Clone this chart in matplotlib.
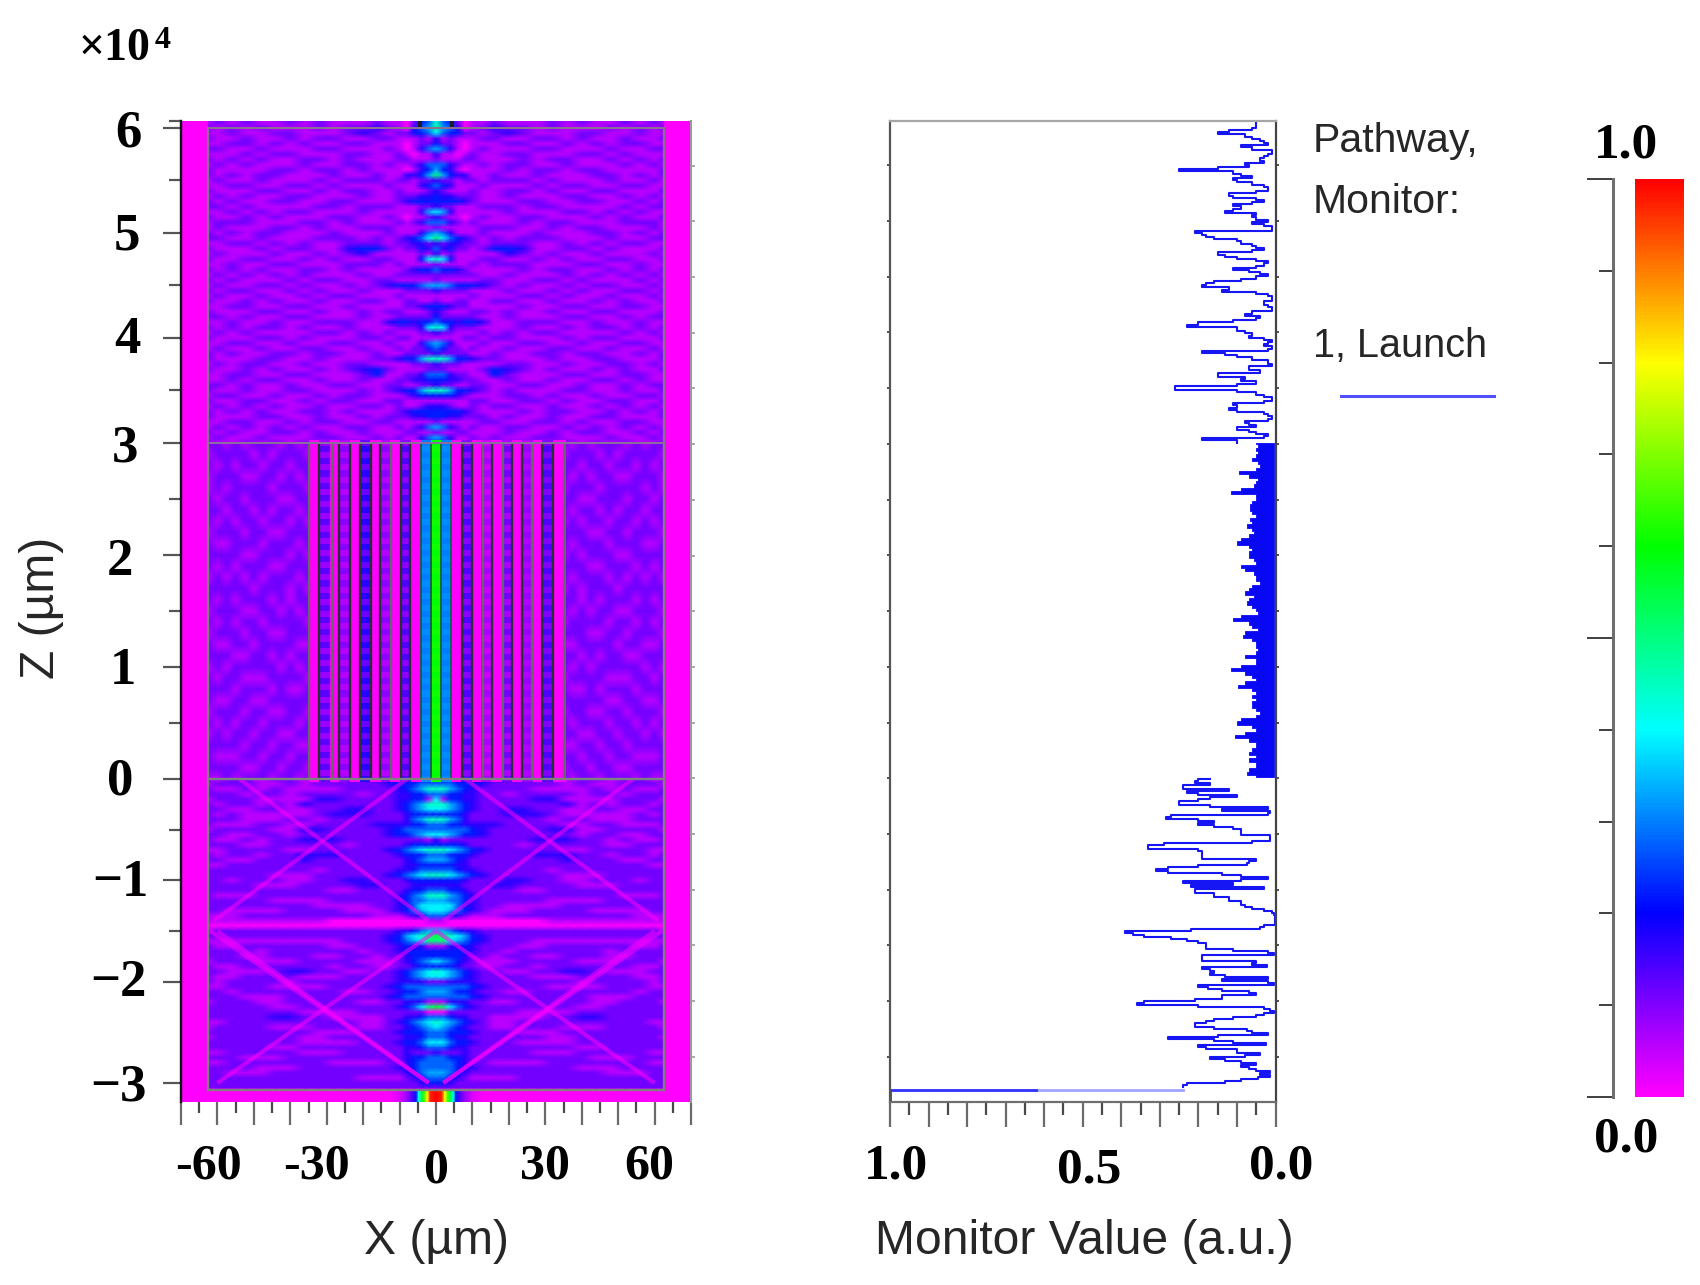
import numpy as np
import matplotlib
matplotlib.use("Agg")
import matplotlib.pyplot as plt
from matplotlib.colors import LinearSegmentedColormap
from matplotlib.transforms import ScaledTranslation
from matplotlib.markers import TICKLEFT, TICKRIGHT

# ---------- data ----------
# field levels: one base-36 character per cell, level/18 = intensity; columns mirrored about x=0
field_x = [0, 2, 4, 6, 8, 10, 13, 16, 20, 24, 28, 32, 36, 40, 44, 48, 52, 56, 60, 62.5]
field_top = [
"85420112111212112121","96530123221211121212","75442212321112211211","31211122112212112112",
"42210111221121212211","65310121112211121122","31101211221112212111","21112211121221121212",
"55321121221121112121","64310111212212211112","96433112112111221212","32212212221211121121",
"54311121112122112211","32111211221211221112","43322211211122112121","44443211122112211212",
"32211122212211112122","76311111211122121211","32110121122111212112","55321211121221112221",
"21111122211212211121","65311121112111221212","97543212122211121122","32332212221121212211",
"53422124431122121112","31211111321211211121","87411122112121122112","21111212221112211211",
"54432111121221121212","22222211211121212121","21111122112212111212","66544432121121221121",
"32222111211212112212","11111211122121121121","21122112211211212112","44322111121122112211",
"32111221211211221112","42222211211122112122","54434431122211211211","87322211121121221212",
"32211121212211112121","11112212211121221112","65311121122112112211","54221211211221121121",
"32222112112212211212","88644322111211221112","32221111221121122121","22111124321211212112",
"55322114211122112211","44332211211211221211","32211221122112112122","88644321211122112112",
"44432111221211211221","11111221122121122112","33211212211211212121","44443211121221121212",
"44332221211211221112","21111122112212112211","65321211221121212121","21122111211212211212",
"65311212112211121121","42211121221121212112",
]
field_bottom = [
"44444433221112212212","55544432222212112221","88654322221111212112","55443322122221221222",
"71443322223311112221","88654322222231212212","77654322332211221122","44443222333211111212",
"88653222222122111222","55443333222211221112","55555432222331122221","77654432222221221122",
"31222222223332212112","44443222212222211222","88765432222211222211","55444322223332212212",
"66543222222232221122","44433222222222222211","55543322222122222222","88765432222211122222",
"44443222332211222122","33332223322221112222","55443222211222222222","88654322222222221112",
"66554322222111122222","77754322111122222222","77654321112222111122","55432111222222222111",
"11000000000111111111","00000000000000000000","66543322222222222221","a9876432222222222222",
"99765432221111111111","11334322211222222112","44444322122222212222","44443221221122211222",
"76543211122221112221","44432211221222222112","87654322112233211122","77654322221112222112",
"22333322222221222212","55555432222111122211","66544322112222222122","55555432222222111222",
"11333221122222112221","a9754322222221122222","00222222211112222222","55433221111223322222",
"87654321122222222211","76543221122211122221","55444322211122222222","55433222222112222221",
"77544322211112222222","55433222222221122222","32223222221112222211","55443222222222111222",
"55543221111222222211","55543322222221112222","66543222222222211122","55432111122222222222",
"44322222222222222222","22222222222222222222",
]
side_x = [35, 37.5, 40, 42.5, 45, 47.5, 50, 52.5, 55, 57.5, 60, 62.5]
field_side = [
"212122212122","122212122221","221221221212","212122112221","122212222121","221122212212",
"212212122122","121221221212","222112212221","212221222112","121222112222","222112221212",
"212221212121","121222122222","221212221212","212122112221","122221221212","222112212221",
"112222122112","221212211222","212122222121","122221112212","211212221222","222221122112",
"122112212221","212221221212","221122122121","112212212222","221221221112","122122112222",
"212212221211",
]
# waveguide array, z = 0 to 3
strip_x = [-33.5,-30.5,-27.9,-25.2,-22.2,-19.5,-16.7,-13.7,-11.3,-8.2,-5.8,-2.7,0,
           2.7,5.5,8.4,11.2,13.5,16.8,19.6,22.1,25.3,27.8,30.4,33.9]
strip_between = [0,.08,0,.06,0,.12,0,.06,0,.09,0,.30,.60,.30,0,.09,0,.04,0,.07,0,.06,0,.10,0]
strip_dots    = [0,.13,0,.09,0,.17,0,.09,0,.14,0,.31,.61,.31,0,.14,0,.07,0,.11,0,.08,0,.14,0]
strip_dark = [-32.1,-26.5,-23.6,-21,-17.9,-15.4,-9.6,-7.1,7,9.8,15.3,20.8,23.7,29.2,32]
strip_grey = [-35,-28.6,-12.4,12.8,18.5,26.4,35.1]
strip_core = [-4.2,-1.5,1.5,4]
# launch field under the box
launch_x = [-13,-10,-8,-6.5,-5.4,-4.8,-4,-3.2,-2.4,-1.6,0,1.6,2.4,3.2,4,4.8,5.4,6.5,8,10,13]
launch_v = [0,.03,.08,.14,.22,.4,.55,.65,.8,.97,1,.97,.8,.65,.55,.4,.22,.14,.08,.03,0]
# bright streaks in the lower section: (x0, z0, x1, z1)
streak_x0 = [54, 8, -54, -8, 0, 60, 0, -60, 2, -2]
streak_z0 = [0, 0, 0, 0, -1.5, -1.5, -1.5, -1.5, -3, -3]
streak_x1 = [2, 61, -2, -61, 60, 2, -60, -2, 62, -62]
streak_z1 = [-1.4, -1.4, -1.4, -1.4, -3, -3, -3, -3, -1.5, -1.5]

# monitor value in percent
monitor_top = [5,5,5,5,6,12,15,8,6,4,3,2,9,6,1,1,2,3,4,3,8,7,15,25,11,9,6,11,10,6,3,2,2,5,12,11,5,3,6,11,
 9,11,13,5,6,5,2,6,3,1,1,21,19,18,16,10,9,6,5,3,6,15,13,10,5,2,3,5,11,7,4,2,5,9,16,18,19,12,14,5,
 2,1,1,3,3,2,1,1,6,8,4,5,11,20,23,10,10,8,6,7,3,1,2,3,1,2,19,13,10,6,2,2,1,7,7,4,15,15,8,9,
 5,10,26,26,10,5,3,1,1,3,11,10,12,10,3,2,1,2,8,7,5,10,7,5,2,3,19,10]
monitor_mid = [5,4.5,5,4.5,5,6,4.5,4,5,9.5,7,4.5,5,5.5,9,11.5,5,5,6,6.5,6.5,6,5,6.5,6,7.5,6,5.5,7,9,10,7,6,7,7,
 5.5,5,9,8,5.5,5,5,4,6,7,8,5.5,7,7.5,6,5,4.5,9,11,7,6,4.5,8,8.5,6,5,5,4.5,5,8,5,5,9,11.5,8,6,5,8,9.8,
 6,5,6,5,6,6,5,4,5,9,10,6,5,8,10.5,7,5,5,6,7,5,7,5,5,7,7.5,5]
monitor_bottom = [17,20,21,17,24,24,12,23,20,10,17,20,25,25,17,2,14,1.5,2,27,28.5,20,16,20,16,11,9,9,9,1.5,1.5,1.5,6,
 29,33,33,20,19,19,19,19,5,7,7.5,20,28,31,28,14,9,2,9,24,11,22,3,21,21,16,16,12,12,9,9,8,6,3,1,.5,.2,.1,.1,.1,.1,
 3,4,22,39,37,34,27,23,20,18,18,18,11,2,.5,19,19,19,5,6,2.3,19,17,16,17,13,2,14,2,.5,20,17.5,14,7,5,14,14,21,34,36,
 20,3,1.5,.5,3,5,11,16,18,21,21,16,7.5,6,2,15,28,16,11,2.5,20,18,10,10,4,8,17,13,9,5,9,7,5,1.5,4,1.5,4.5,9,13,23,24]
launch_line_v = [24, 62]
launch_line_z = [-3.07, -3.07]

z_major = [6, 5, 4, 3, 2, 1, 0, -1, -2, -3]
z_major_labels = ["6", "5", "4", "3", "2", "1", "0", "\u22121", "\u22122", "\u22123"]
x_major = list(range(-70, 71, 10))
x_labelled = {-60: "-60", -30: "-30", 0: "0", 30: "30", 60: "60"}
mon_major = [i / 10 for i in range(11)]
mon_labelled = {1.0: "1.0", 0.5: "0.5", 0.0: "0.0"}

# ---------- figure ----------
W, H = 1700, 1285
SERIF = "Liberation Serif"
SANS = "Liberation Sans"
TXT = "#262626"
fig = plt.figure(figsize=(W / 100, H / 100), dpi=100, facecolor="white")

def axes_px(x0, y0, x1, y1):
    return fig.add_axes([x0 / W, 1 - y1 / H, (x1 - x0) / W, (y1 - y0) / H])

def nudge(t, dx, dy):
    t.set_transform(t.get_transform() + ScaledTranslation(dx / 100, -dy / 100, fig.dpi_scale_trans))

PT = 0.72  # one pixel in points
cmap = LinearSegmentedColormap.from_list(
    "rsoft", ["#ff00ff", "#0000ff", "#00ffff", "#00ff00", "#ffff00", "#ff0000"], N=256)

# the z axis of the source figure is not uniform across its three stitched sections
Z_BREAK = np.array([-3.188, -3.0, 0.0, 3.0, 6.0, 6.07])
Z_PX = np.array([-1102.0, -1083.0, -779.0, -443.0, -128.0, -121.0])
z_fwd = lambda z: np.interp(z, Z_BREAK, Z_PX)
z_inv = lambda p: np.interp(p, Z_PX, Z_BREAK)

def levels(rows, n):
    return np.array([[int(c, 36) / 18 for c in r.ljust(n, "2")[:n]] for r in rows])

def mirrored(x, g):
    x = np.asarray(x, float)
    return np.r_[-x[:0:-1], x], np.c_[g[:, :0:-1], g]

ax = axes_px(181, 121, 691, 1102)
ax.set_facecolor("#ff00ff")
ax.set_yscale("function", functions=(z_fwd, z_inv))
ax.set_xlim(-70, 70)
ax.set_ylim(-3.188, 6.07)
ax.margins(0)

mk = dict(cmap=cmap, vmin=0, vmax=1)
xs, g = mirrored(field_x, levels(field_top, 20))
zs = np.r_[6.07, np.linspace(6.05, 3.0, len(field_top))]
ax.pcolormesh(xs, zs, np.vstack([g[0], g]), shading="gouraud", **mk)
xs, g = mirrored(field_x, levels(field_bottom, 20))
zs = np.linspace(0, -3.05, len(field_bottom))
ax.pcolormesh(xs, zs, g, shading="gouraud", **mk)
gs = levels(field_side, 12)
zs = np.linspace(3, 0, len(field_side))
ax.pcolormesh(side_x, zs, gs, shading="gouraud", **mk)
ax.pcolormesh(-np.array(side_x), zs, gs, shading="gouraud", **mk)
rows = np.array([strip_between, strip_dots] * 28)
ax.pcolormesh(strip_x, np.linspace(3, 0, len(rows)), rows, shading="nearest", **mk)
ax.vlines(strip_dark, 0, 3, color="#26302e", lw=2.1 * PT * 1.1)
ax.vlines(strip_grey, 0, 3, color="#666666", lw=2.1 * PT * 1.1)
ax.vlines(strip_core, 0, 3, color="#14603c", lw=1.8 * PT)
ax.pcolormesh(launch_x, [-3.188, -3.07], np.array([launch_v, launch_v]), shading="gouraud", **mk)
for a, b, c, d in zip(streak_x0, streak_z0, streak_x1, streak_z1):
    ax.plot([a, c], [b, d], color="#ff00ff", lw=3, alpha=0.55, solid_capstyle="butt")
ax.vlines([-4.4, 4.4], 6.0, 6.07, color="#1a1a30", lw=3)
ax.plot([-62.5, -62.5], [-3.07, 3], color="#808080", lw=2 * PT * 1.2)
ax.plot([62.5, 62.5], [-3.07, 3], color="#808080", lw=2 * PT * 1.2)
ax.plot([-62.5, -62.5], [3, 6], color="#8a6e98", lw=2 * PT * 1.2)
ax.plot([62.5, 62.5], [3, 6], color="#8a6e98", lw=2 * PT * 1.2)
ax.plot([-62.5, 62.5], [-3.07, -3.07], color="#808080", lw=2 * PT * 1.2)
ax.plot([-62.5, 62.5], [6, 6], color="#8a6e98", lw=2 * PT)
ax.plot([-62.5, 62.5], [3, 3], color="#8c6c9c", lw=2 * PT)
ax.plot([-62.5, 62.5], [0, 0], color="#808080", lw=2 * PT * 1.2)

for s in ["top", "bottom"]:
    ax.spines[s].set_visible(False)
ax.spines["left"].set_color("#111111")
ax.spines["left"].set_linewidth(2.4 * PT)
ax.spines["right"].set_color("#9a9a9a")
ax.spines["right"].set_linewidth(2 * PT)

ax.set_yticks(z_major, z_major_labels)
ax.set_yticks([z + 0.5 for z in z_major[:-1]], minor=True)
ax.tick_params(axis="y", which="major", length=18.5 * PT, width=2.2 * PT, color="#555555", pad=15)
ax.tick_params(axis="y", which="minor", length=12.5 * PT, width=2.2 * PT, color="#555555")
ax.set_xticks(x_major, [x_labelled.get(v, "") for v in x_major])
ax.set_xticks([v + 5 for v in x_major[:-1]], minor=True)
ax.tick_params(axis="x", which="major", length=23 * PT, width=2.2 * PT, color="#6a6a6a", pad=12)
ax.tick_params(axis="x", which="minor", length=11 * PT, width=2.2 * PT, color="#4a4a4a")
for t in ax.get_xticklabels() + ax.get_yticklabels():
    t.set_fontfamily(SERIF)
    t.set_fontweight("bold")
    t.set_color("black")
    t.set_fontsize(36)
for t in ax.get_yticklabels():
    t.set_fontsize(38)
ydx = [0, -2, -1, -3, -9, -6, -8, 7, 5, 5]
ydy = [0, -2, -3, 0, 2, -1, -3, -3, -4, -1]
for t, a, b in zip(ax.get_yticklabels(), ydx, ydy):
    nudge(t, a, b)
xlab_dx = {-60: -9, -30: -10, 0: 0, 30: 0, 60: -5}
xlab_dy = {-60: 2, -30: 2, 0: 6, 30: 2, 60: 2}
for t, v in zip(ax.get_xticklabels(), x_major):
    if v in xlab_dx:
        nudge(t, xlab_dx[v], xlab_dy[v])
small_z = z_inv(-(165.7 + 55.7 * np.arange(17)))
ax.plot(np.ones_like(small_z), small_z, ls="", marker=TICKRIGHT, ms=3, mew=1.2, color="#9a9a9a",
        transform=ax.get_yaxis_transform(), clip_on=False)

# ---------- monitor ----------
am = axes_px(890, 120.5, 1275.5, 1102)
am.set_yscale("function", functions=(z_fwd, z_inv))
am.set_xlim(1, 0)
am.set_ylim(-3.188, 6.07)
BLUE = "#1616f4"
am.plot(np.array(monitor_top) / 100, np.linspace(6.06, 3.0, len(monitor_top)),
        color=BLUE, lw=1.5, drawstyle="steps-post")
zm = np.linspace(3.0, 0.02, len(monitor_mid))
am.fill_betweenx(zm, 0.004, np.array(monitor_mid) / 100, color="#0808f5", lw=0.6, step="mid")
am.plot(np.array(monitor_bottom) / 100, np.linspace(0, -3.04, len(monitor_bottom)),
        color=BLUE, lw=1.5, drawstyle="steps-post")
am.plot(np.array(launch_line_v) / 100, launch_line_z, color="#a4a4ff", lw=2)
am.plot([1, 0.62], [-3.07, -3.07], color="#3030ff", lw=2)
am.plot([1, 1], [-3.07, -3.18], color="#3030ff", lw=2, clip_on=False)

am.spines["top"].set_color("#a6a6a6")
am.spines["bottom"].set_color("#6e6e6e")
am.spines["left"].set_color("#555555")
am.spines["right"].set_color("#444444")
for s in am.spines.values():
    s.set_linewidth(2 * PT * 1.1)
am.set_yticks([])
am.minorticks_off()
am.tick_params(axis="y", which="both", left=False, right=False)
am.set_xticks(mon_major, [mon_labelled.get(round(v, 1), "") for v in mon_major])
am.set_xticks([v + 0.05 for v in mon_major[:-1]], minor=True)
am.tick_params(axis="x", which="major", length=25 * PT, width=2.2 * PT, color="#6a6a6a", pad=12)
am.tick_params(axis="x", which="minor", length=13 * PT, width=2.2 * PT, color="#4a4a4a")
for t, v in zip(am.get_xticklabels(), mon_major):
    t.set_fontfamily(SERIF)
    t.set_fontweight("bold")
    t.set_fontsize(37)
    t.set_color("black")
    nudge(t, 6, 4 if round(v, 1) == 0.5 else 0)
for side, mark in ((0, TICKLEFT), (1, TICKRIGHT)):
    am.plot(np.full_like(small_z, side), small_z, ls="", marker=mark, ms=2.5, mew=1.2, color="#333333",
            transform=am.get_yaxis_transform(), clip_on=False)

# ---------- colorbar ----------
cax = axes_px(1635, 179, 1684, 1097)
sm = plt.cm.ScalarMappable(cmap=cmap, norm=plt.Normalize(0, 1))
cb = fig.colorbar(sm, cax=cax)
cb.outline.set_visible(False)
cax.yaxis.set_ticks_position("left")
cb.set_ticks([0, 0.5, 1])
cb.set_ticks([i / 10 for i in range(11) if i % 5], minor=True)
cb.set_ticklabels(["", "", ""])
cax.spines["left"].set_visible(True)
cax.spines["left"].set_position(("outward", 22 * PT))
cax.spines["left"].set_color("#6e6e6e")
cax.spines["left"].set_linewidth(3 * PT)
cax.tick_params(axis="y", which="major", left=True, right=False, length=26 * PT, width=2 * PT, color="#444444")
cax.tick_params(axis="y", which="minor", left=True, right=False, length=14 * PT, width=2 * PT, color="#444444")

# ---------- text ----------
def ftext(x, y, s, **kw):
    fig.text(x / W, 1 - y / H, s, **kw)

bold = dict(family=SERIF, fontweight="bold", fontsize=37, color="black")
ftext(1626, 146, "1.0", ha="center", va="center", **bold)
ftext(1626, 1140, "0.0", ha="center", va="center", **bold)
ftext(79, 60, "\u00d710", ha="left", va="baseline", family=SERIF, fontweight="bold", fontsize=33, color="black")
ftext(155, 48, "4", ha="left", va="baseline", family=SERIF, fontweight="bold", fontsize=23, color="black")
sans = dict(family=SANS, fontsize=34.6, color=TXT)
ftext(436, 1241, "X (\u00b5m)", ha="center", va="center", **sans)
ftext(1084, 1241, "Monitor Value (a.u.)", ha="center", va="center", **sans)
ftext(41, 608, "Z (\u00b5m)", ha="center", va="center", rotation=90, **sans)
leg = dict(family=SANS, color=TXT, ha="left", va="baseline")
ftext(1313, 152, "Pathway,", fontsize=29.5, **leg)
ftext(1313, 213, "Monitor:", fontsize=29.5, **leg)
ftext(1313, 357, "1, Launch", fontsize=28.5, **leg)
fig.add_artist(plt.Line2D([1341 / W, 1494 / W], [1 - 396 / H] * 2, color="#5050ff", lw=2.2))

fig.savefig("out.png", dpi=100)
